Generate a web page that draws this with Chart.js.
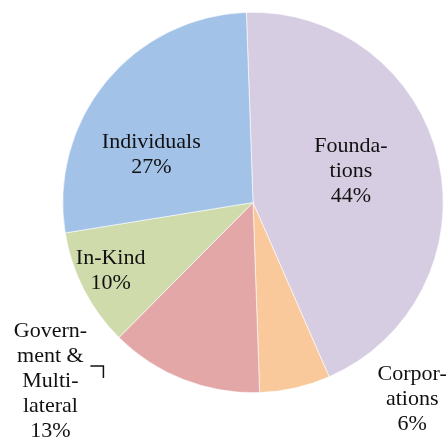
<!DOCTYPE html>
<html>
<head>
<meta charset="utf-8">
<script src="https://cdn.jsdelivr.net/npm/chart.js@4"></script>
<style>
  html, body { margin: 0; padding: 0; background: #fff; }
  #wrap { width: 448px; height: 440px; }
</style>
</head>
<body>
<div id="wrap"><canvas id="pieChart" width="448" height="440"></canvas></div>
<script>
// funding sources, clockwise from the top
const categories = ['Foundations', 'Corporations', 'Government & Multilateral', 'In-Kind', 'Individuals'];
const shares = [44, 6, 13, 10, 27];
// label text as it wraps in the picture
const labelLines = [
  ['Founda-', 'tions', '44%'],
  ['Corpor-', 'ations', '6%'],
  ['Govern-', 'ment &', 'Multi-', 'lateral', '13%'],
  ['In-Kind', '10%'],
  ['Individuals', '27%'],
];
const sliceColors = ['#d6cde2', '#f9c99b', '#e3a7a7', '#cfdbab', '#a2c2e7'];

// where each label sits: angle (deg, clockwise from top) and distance as a share of the radius
const labelSpots = [
  { angle: 72.5, dist: 0.54 },
  { angle: 141, dist: 1.33 },
  { angle: 228.6, dist: 1.42 },
  { angle: 244.4, dist: 0.83 },
  { angle: 295, dist: 0.59 },
];

// draws the wrapped labels and the little leader next to the government label
const sliceLabels = {
  id: 'sliceLabels',
  afterDatasetsDraw(chart) {
    const arcs = chart.getDatasetMeta(0).data;
    const ctx = chart.ctx;
    const lineH = 25;
    ctx.save();
    ctx.font = '22px "Liberation Serif", serif';
    ctx.fillStyle = '#111';
    ctx.textAlign = 'center';
    ctx.textBaseline = 'middle';
    arcs.forEach((arc, i) => {
      const spot = labelSpots[i];
      const a = spot.angle * Math.PI / 180;
      const cx = arc.x + Math.sin(a) * spot.dist * arc.outerRadius;
      const cy = arc.y - Math.cos(a) * spot.dist * arc.outerRadius;
      const lines = labelLines[i];
      const top = cy - (lines.length - 1) * lineH / 2;
      lines.forEach((t, k) => ctx.fillText(t, cx, top + k * lineH));
      if (i === 2) {
        ctx.strokeStyle = '#111';
        ctx.lineWidth = 1.5;
        ctx.beginPath();
        ctx.moveTo(cx + 40, cy - 15);
        ctx.lineTo(cx + 53, cy - 15);
        ctx.lineTo(cx + 53, cy - 3);
        ctx.stroke();
      }
    });
    ctx.restore();
  }
};

const ctx = document.getElementById('pieChart').getContext('2d');
new Chart(ctx, {
  type: 'pie',
  data: {
    labels: categories,
    datasets: [{
      data: shares,
      backgroundColor: sliceColors,
      borderColor: '#ffffff',
      borderWidth: 0.6,
    }],
  },
  options: {
    responsive: false,
    animation: false,
    rotation: -2,
    layout: { padding: { left: 62, right: 4, top: 12, bottom: 47 } },
    plugins: {
      legend: { display: false },
      tooltip: { enabled: false },
    },
  },
  plugins: [sliceLabels],
});
</script>
</body>
</html>
